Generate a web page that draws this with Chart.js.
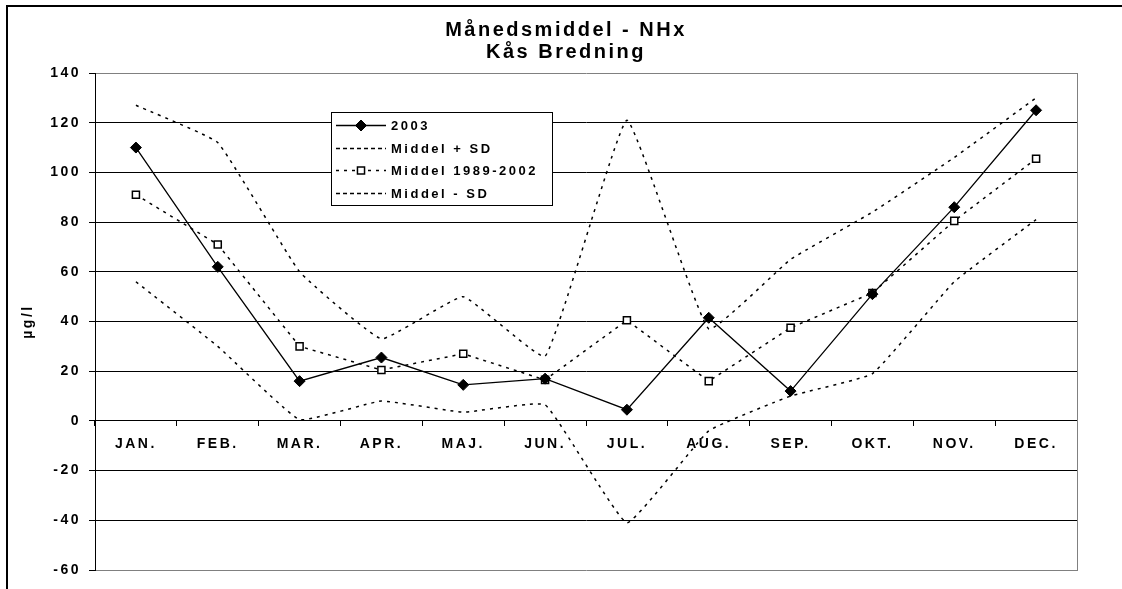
<!DOCTYPE html>
<html>
<head>
<meta charset="utf-8">
<script src="https://cdn.jsdelivr.net/npm/chart.js@4/dist/chart.umd.min.js"></script>
<style>
html,body{margin:0;padding:0;background:#fff;}
#wrap{position:relative;width:1122px;height:589px;}
</style>
</head>
<body>
<div id="wrap"><canvas id="c" width="1122" height="589"></canvas></div>
<script>
// ---- data ----
const months = ['JAN.','FEB.','MAR.','APR.','MAJ.','JUN.','JUL.','AUG.','SEP.','OKT.','NOV.','DEC.'];
const values2003     = [110, 62, 16, 25.5, 14.5, 17, 4.5, 41.5, 12, 51, 86, 125];
const middelPlusSD   = [127, 112, 60, 33, 50, 26, 121, 37, 65, 84, 106, 130];
const middel         = [91, 71, 30, 20.5, 27, 16.5, 40.5, 16, 37.5, 51.5, 80.5, 105.5];
const middelMinusSD  = [56, 30, 0.5, 8, 3.5, 6.5, -41, -4, 10, 19, 56, 81];
const yTickValues    = [-60, -40, -20, 0, 20, 40, 60, 80, 100, 120, 140];
const seriesLabels   = ['2003', 'Middel + SD', 'Middel 1989-2002', 'Middel - SD'];
const titleLines     = ['Månedsmiddel - NHx', 'Kås Bredning'];
const yAxisTitle     = 'µg/l';

const FONT = '"Liberation Sans", Arial, Helvetica, sans-serif';
Chart.defaults.font.family = FONT;
Chart.defaults.color = '#000';

const SPACING = '2.5px';
const spacingPlugin = {
  id: 'spacing',
  beforeUpdate(chart) { chart.ctx.letterSpacing = SPACING; },
  beforeLayout(chart) { chart.ctx.letterSpacing = SPACING; },
  beforeDraw(chart) { chart.ctx.letterSpacing = SPACING; }
};

const framePlugin = {
  id: 'frame',
  beforeDraw(chart) {
    const ctx = chart.ctx;
    ctx.save();
    ctx.fillStyle = '#fff';
    ctx.fillRect(0, 0, chart.width, chart.height);
    ctx.strokeStyle = '#000';
    ctx.lineWidth = 2;
    ctx.beginPath();
    ctx.moveTo(7, chart.height);
    ctx.lineTo(7, 6);
    ctx.lineTo(chart.width, 6);
    ctx.stroke();
    ctx.restore();
  }
};

function drawMarker(ctx, ds, x, y) {
  const r = ds.pointRadius;
  ctx.save();
  ctx.lineWidth = ds.pointBorderWidth || 1;
  ctx.strokeStyle = ds.pointBorderColor;
  ctx.fillStyle = ds.pointBackgroundColor;
  ctx.beginPath();
  if (ds.pointStyle === 'rectRot') {
    ctx.moveTo(x - r, y); ctx.lineTo(x, y - r); ctx.lineTo(x + r, y); ctx.lineTo(x, y + r);
    ctx.closePath();
  } else {
    const s = Math.SQRT1_2 * r;
    ctx.rect(x - s, y - s, 2 * s, 2 * s);
  }
  ctx.fill();
  ctx.stroke();
  ctx.restore();
}

const boxLegendPlugin = {
  id: 'boxLegend',
  afterDraw(chart) {
    const ctx = chart.ctx;
    const L = 331, T = 112, W = 221, H = 93;
    ctx.save();
    ctx.fillStyle = '#fff';
    ctx.fillRect(L, T, W, H);
    ctx.strokeStyle = '#000';
    ctx.lineWidth = 1;
    ctx.strokeRect(L + 0.5, T + 0.5, W, H);
    chart.data.datasets.forEach((ds, i) => {
      const y = Math.round(T + 13 + i * 22.7) + 0.5;
      ctx.save();
      ctx.setLineDash(ds.pointRadius > 0 || !ds.borderDash ? (ds.borderDash || []) : [4, 3]);
      ctx.lineWidth = ds.borderWidth;
      ctx.strokeStyle = ds.borderColor;
      ctx.beginPath();
      ctx.moveTo(336, y);
      ctx.lineTo(386, y);
      ctx.stroke();
      ctx.restore();
      if (ds.pointRadius > 0) drawMarker(ctx, ds, 361, y);
      ctx.fillStyle = '#000';
      ctx.font = 'bold 13px ' + FONT;
      ctx.letterSpacing = SPACING;
      ctx.textBaseline = 'middle';
      ctx.textAlign = 'left';
      ctx.fillText(ds.label, 391, y + 0.5);
    });
    ctx.restore();
  }
};

const dotted = [3, 5];

new Chart(document.getElementById('c'), {
  type: 'line',
  data: {
    labels: months,
    datasets: [
      {
        label: seriesLabels[0], data: values2003,
        borderColor: '#000', borderWidth: 1.3, tension: 0,
        pointStyle: 'rectRot', pointRadius: 5.5, pointBorderWidth: 1,
        pointBackgroundColor: '#000', pointBorderColor: '#000'
      },
      {
        label: seriesLabels[1], data: middelPlusSD,
        borderColor: '#000', borderWidth: 1.5, borderDash: dotted, tension: 0.1,
        pointRadius: 0
      },
      {
        label: seriesLabels[2], data: middel,
        borderColor: '#000', borderWidth: 1.5, borderDash: dotted, tension: 0,
        pointStyle: 'rect', pointRadius: 5, pointBorderWidth: 1.5,
        pointBackgroundColor: '#fff', pointBorderColor: '#000'
      },
      {
        label: seriesLabels[3], data: middelMinusSD,
        borderColor: '#000', borderWidth: 1.5, borderDash: dotted, tension: 0.1,
        pointRadius: 0
      }
    ]
  },
  options: {
    responsive: false,
    animation: false,
    devicePixelRatio: 1,
    layout: { padding: { left: 10, right: 0, top: 0, bottom: 19 } },
    plugins: {
      legend: { display: false },
      tooltip: { enabled: false },
      title: {
        display: true,
        text: titleLines,
        color: '#000',
        font: { size: 20, weight: 'bold', family: FONT, lineHeight: 1.1 },
        padding: { top: 19, bottom: 10 }
      }
    },
    scales: {
      x: {
        type: 'category',
        position: { y: 0 },
        offset: true,
        grid: { offset: true, drawOnChartArea: false, drawTicks: true, tickLength: 5, color: '#000' },
        border: { display: true, color: '#000', width: 1 },
        ticks: { font: { size: 14, weight: 'bold', family: FONT }, color: '#000', padding: 10, maxRotation: 0, autoSkip: false }
      },
      y: {
        type: 'linear',
        position: 'left',
        min: yTickValues[0],
        max: yTickValues[yTickValues.length - 1],
        afterBuildTicks: s => { s.ticks = yTickValues.map(v => ({ value: v })); },
        afterFit: s => { s.width = 85; },
        grid: {
          color: c => (c.tick && (c.tick.value === 140 || c.tick.value === -60)) ? '#808080' : '#000',
          tickColor: '#000',
          tickLength: 6,
          drawTicks: true
        },
        border: { display: true, color: '#000', width: 1 },
        ticks: { font: { size: 14, weight: 'bold', family: FONT }, color: '#000', padding: 8 },
        title: {
          display: true, text: yAxisTitle, color: '#000',
          font: { size: 14, weight: 'bold', family: FONT }, padding: { top: 10, bottom: 0 }
        }
      },
      y2: {
        type: 'linear',
        position: 'right',
        min: yTickValues[0],
        max: yTickValues[yTickValues.length - 1],
        afterFit: s => { s.width = 45; },
        grid: { drawOnChartArea: false, drawTicks: false },
        border: { display: true, color: '#808080', width: 1 },
        ticks: { display: false }
      }
    }
  },
  plugins: [spacingPlugin, framePlugin, boxLegendPlugin]
});
</script>
</body>
</html>
